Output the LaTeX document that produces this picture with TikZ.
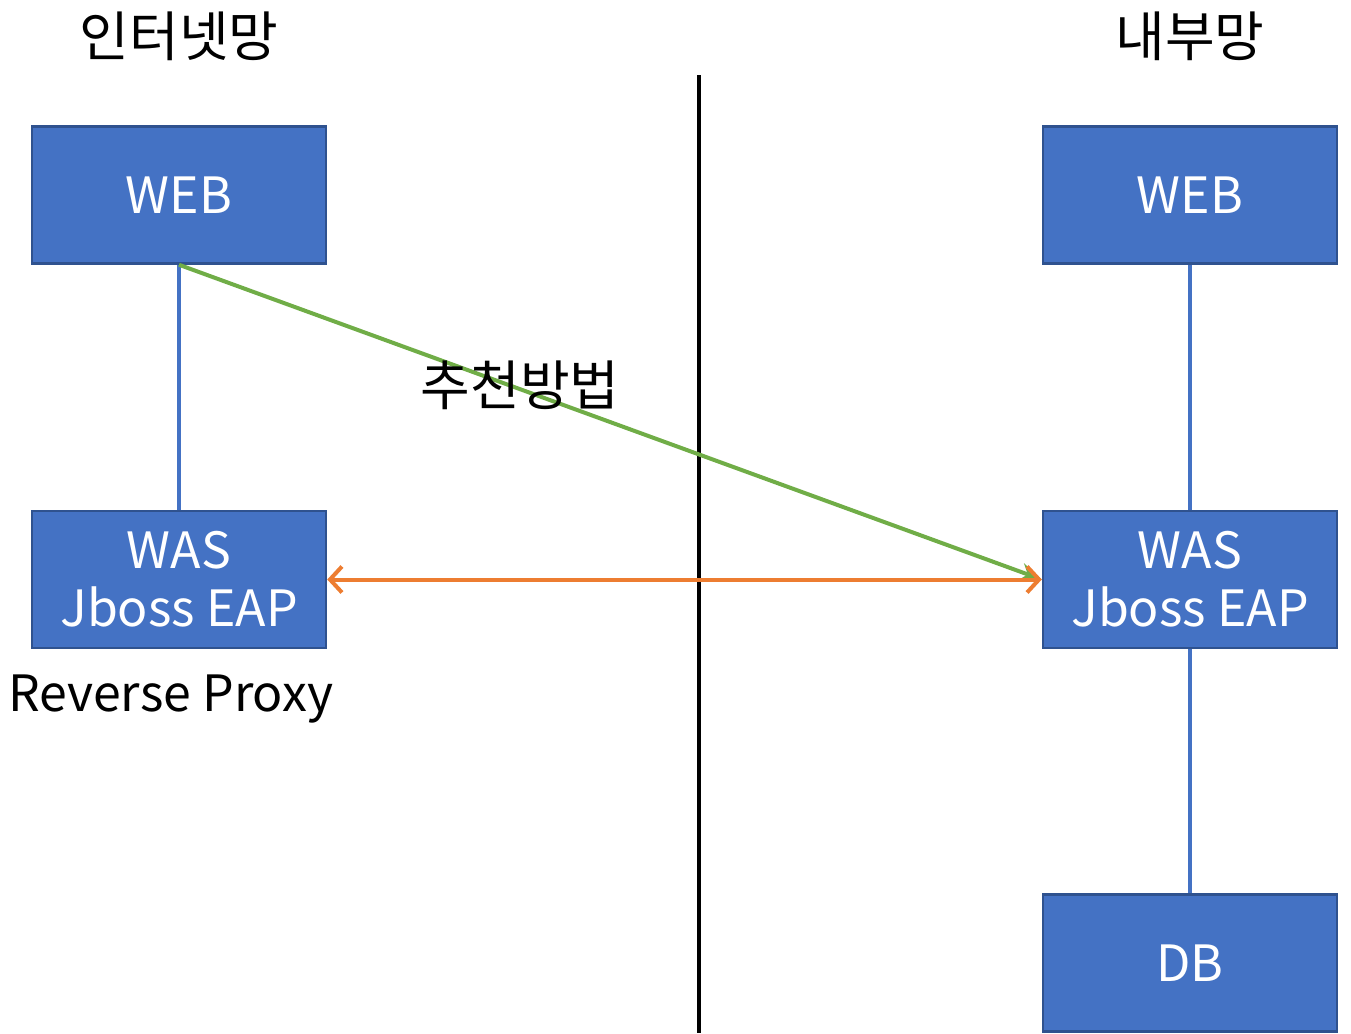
\documentclass[tikz,border=0pt]{standalone}
\usepackage{fontspec}
\setmainfont{Noto Sans CJK KR}
\usetikzlibrary{arrows.meta}
\definecolor{boxfill}{HTML}{4472C4}
\definecolor{boxline}{HTML}{2F528F}
\definecolor{linkblue}{HTML}{4472C4}
\definecolor{greenln}{HTML}{70AD47}
\definecolor{orangeln}{HTML}{ED7D31}
\begin{document}
\begin{tikzpicture}[x=1pt,y=-1pt,
  srv/.style={draw=boxline, line width=2.5pt, fill=boxfill, text=white, minimum width=294pt, minimum height=137pt, inner sep=0pt, align=center, font=\fontsize{50}{62}\selectfont},
  lbl/.style={font=\fontsize{54}{60}\selectfont, inner sep=0pt},
  link/.style={draw=linkblue, line width=3.5pt}]
\useasboundingbox (0,0) rectangle (1351,1033);
\node[srv] (lweb) at (179,195) {WEB};
\node[srv] (lwas) at (179,579.5) {WAS\\[-4pt]Jboss EAP};
\node[srv] (rweb) at (1190,195) {WEB};
\node[srv] (rwas) at (1190,579.5) {WAS\\[-4pt]Jboss EAP};
\node[srv] (db) at (1190,963) {DB};
\node[lbl] (t1) at (179,36) {인터넷망};
\node[lbl] (t2) at (1190,36) {내부망};
\node[lbl, anchor=west, font=\fontsize{50}{60}\selectfont] (rp) at (8,699) {Reverse Proxy};
\coordinate (vtop) at (699,75);
\coordinate (vbot) at (699,1033);
\draw[line width=4pt] (vtop) -- (vbot);
\draw[link] (lweb.south) -- (lwas.north);
\draw[link] (rweb.south) -- (rwas.north);
\draw[link] (rwas.south) -- (db.north);
\draw[draw=greenln, line width=4pt, -{Stealth[length=22pt, width=18pt]}] (lweb.south) -- (rwas.west);
\draw[draw=orangeln, line width=4pt, {Straight Barb[length=12pt, width=26pt, line width=4pt]}-{Straight Barb[length=12pt, width=26pt, line width=4pt]}] (lwas.east) -- (rwas.west);
\node[lbl] (rec) at (520,385) {추천방법};
\end{tikzpicture}
\end{document}
